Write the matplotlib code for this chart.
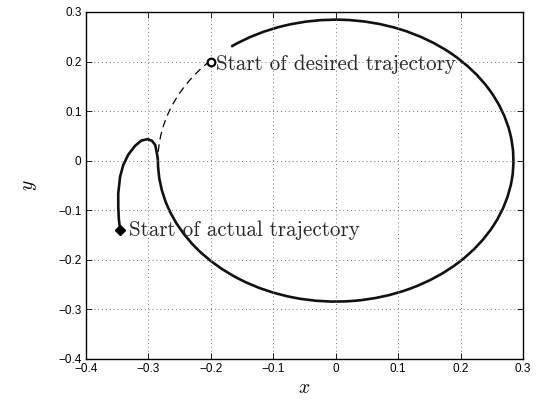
import matplotlib.pyplot as plt
from matplotlib.patches import Arc

# desired trajectory: circle about the origin
circle_center = (0.0, 0.0)
circle_radius = 0.2845
desired_start = (-0.2, 0.2)
desired_dash_angles = (135, 180)   # dashed bit before the actual path catches up

hook_x = [-0.345, -0.347, -0.348, -0.348, -0.345, -0.340, -0.332, -0.321,
          -0.311, -0.301, -0.294, -0.289, -0.2866, -0.2850, -0.2845]
hook_y = [-0.140, -0.119, -0.093, -0.066, -0.032, -0.009, 0.012, 0.030,
          0.0405, 0.0433, 0.040, 0.032, 0.018, 0.006, 0.0]
actual_arc_angles = (180, 486)   # ends at about 126 deg on the second pass

actual_start = (hook_x[0], hook_y[0])

xticks = [-0.4, -0.3, -0.2, -0.1, 0, 0.1, 0.2, 0.3]
yticks = [-0.4, -0.3, -0.2, -0.1, 0, 0.1, 0.2, 0.3]
ticklabels = ['\u22120.4', '\u22120.3', '\u22120.2', '\u22120.1', '0', '0.1', '0.2', '0.3']

plt.rcParams['mathtext.fontset'] = 'cm'

fig = plt.figure(figsize=(5.36, 4.0), dpi=100)
ax = fig.add_axes([0.160, 0.103, 0.816, 0.867])

# dashed desired path
ax.add_patch(Arc(circle_center, 2 * circle_radius, 2 * circle_radius,
                 theta1=desired_dash_angles[0], theta2=desired_dash_angles[1],
                 color='black', lw=0.9, ls=(0, (6, 4))))

# actual path
ax.plot(hook_x, hook_y, color='#111111', lw=1.9, solid_capstyle='butt',
        solid_joinstyle='round')
ax.add_patch(Arc(circle_center, 2 * circle_radius, 2 * circle_radius,
                 theta1=actual_arc_angles[0], theta2=actual_arc_angles[1],
                 color='#111111', lw=1.9))

# start markers
ax.plot(*desired_start, marker='o', ms=5.5, mfc='white', mec='black', mew=1.6)
ax.plot(*actual_start, marker='D', ms=5.5, color='black')

ax.text(-0.191, 0.195, 'Start of desired trajectory', family='cmr10',
        fontsize=15.2, va='center', color='#2a2a2a')
ax.text(-0.331, -0.141, 'Start of actual trajectory', family='cmr10',
        fontsize=15.2, va='center', color='#2a2a2a')

ax.set_xlim(-0.4, 0.3)
ax.set_ylim(-0.4, 0.3)
ax.set_xticks(xticks)
ax.set_yticks(yticks)
ax.set_xticklabels(ticklabels, family='Liberation Sans', fontsize=8.5)
ax.set_yticklabels(ticklabels, family='Liberation Sans', fontsize=8.5)
ax.tick_params(direction='in', top=True, right=True, length=4, width=0.6, pad=3)
ax.grid(True, ls=(0, (1, 3)), color='#777777', lw=0.7)
for s in ax.spines.values():
    s.set_linewidth(1.0)

ax.set_xlabel('$x$', fontsize=14, labelpad=2)
ax.set_ylabel('$y$', fontsize=14, labelpad=14)

fig.savefig('out.png', dpi=100)
